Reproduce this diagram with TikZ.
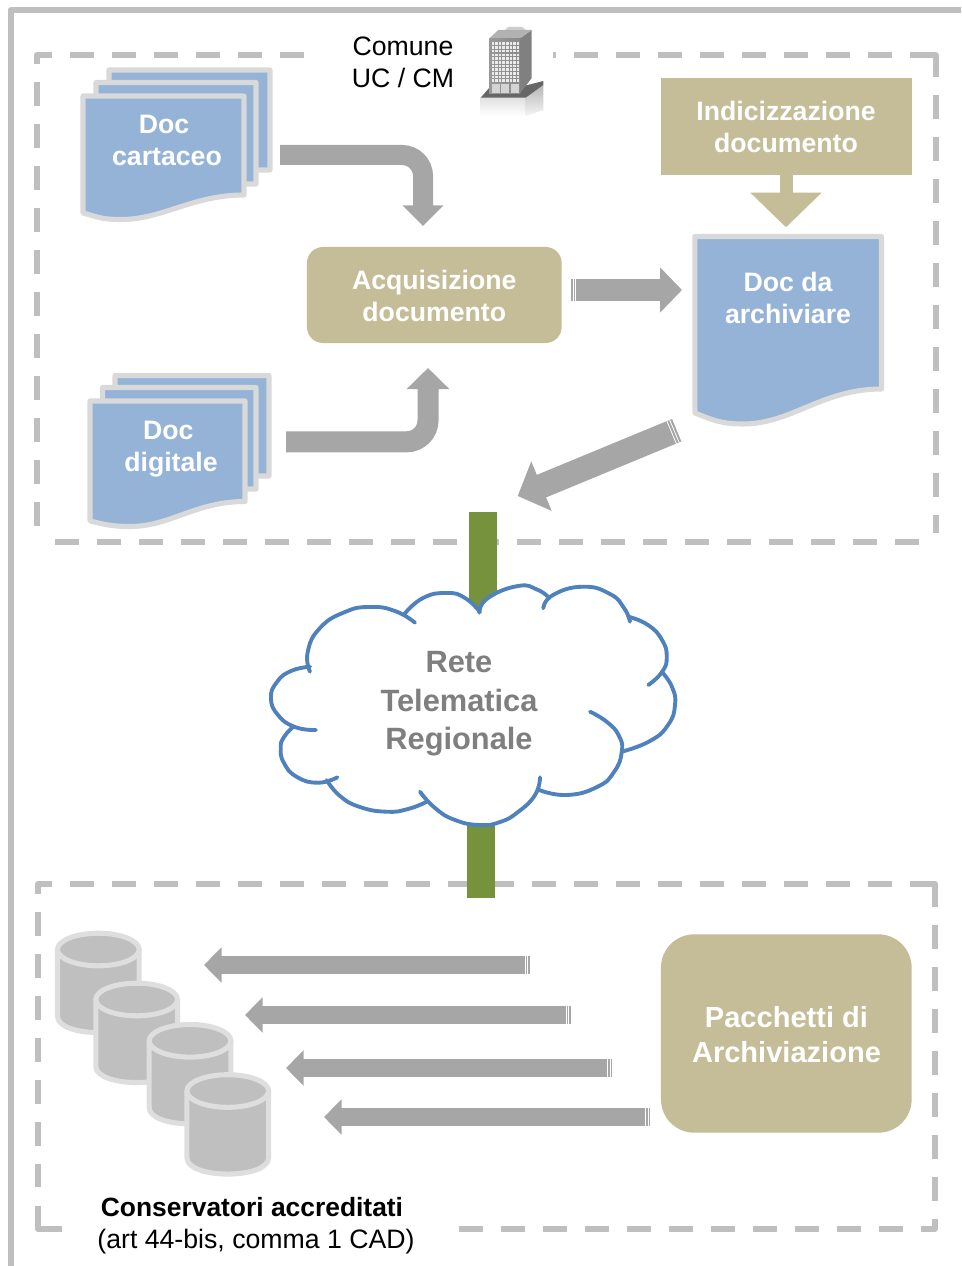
\documentclass[tikz,border=0pt]{standalone}
\usepackage{fontspec}
\setmainfont{Liberation Sans}
\usetikzlibrary{arrows.meta,calc}
\definecolor{framegray}{HTML}{BFBFBF}
\definecolor{arrowgray}{HTML}{A6A6A6}
\definecolor{tanfill}{HTML}{C4BD97}
\definecolor{docblue}{HTML}{95B3D7}
\definecolor{docedge}{HTML}{D9D9D9}
\definecolor{cylfill}{HTML}{BFBFBF}
\definecolor{cyledge}{HTML}{DEDEDE}
\definecolor{netgreen}{HTML}{76923C}
\definecolor{cloudblue}{HTML}{4F81BD}
\definecolor{cloudtext}{HTML}{7F7F7F}
\newcommand{\docpage}[7]{% x1 y1 x2 yright lowx lowy yleft
  \draw[docpagestyle] (#1,#2) -- (#3,#2) -- (#3,#4)
    .. controls ({#3-0.32*(#3-#1)},#4) and ({#5+0.26*(#3-#1)},#6) .. (#5,#6)
    .. controls ({#5-0.13*(#3-#1)},#6) and ({#1+0.08*(#3-#1)},{#7+0.5*(#6-#7)}) .. (#1,#7) -- cycle;}
\newcommand{\cla}{(310,671.7) (307.7,652) (320,628) (345,612) (370,607) (395,611) (415,622.7)}
\newcommand{\clb}{(404,614.5) (423,598) (447,593) (465,598) (480,612)}
\newcommand{\clc}{(479.3,612.7) (488,598) (518,586) (537,589.5) (549.3,598)}
\newcommand{\cld}{(543.3,608.3) (553,595) (583,586.7) (610,594) (624,608) (630,621.7)}
\newcommand{\cle}{(628.3,616.7) (648,625) (662,640) (666.7,657) (662,672) (648.3,685)}
\newcommand{\clf}{(661.7,671.7) (672,687) (675,705) (668,725) (650,741) (621.7,751.7)}
\newcommand{\clg}{(590,711.7) (607,722) (619,736) (621.7,752) (614,772) (597,787) (566.7,795) (539.3,790)}
\newcommand{\clh}{(540,777.3) (535,795) (518,812) (500,822) (480,825) (455,820) (435,808) (420,791.7)}
\newcommand{\cli}{(426.7,801.7) (408,809) (386.7,811.7) (360,807) (340,796) (326.7,780)}
\newcommand{\clj}{(337.3,777.3) (318.3,782.7) (297,777) (284,763) (280.7,748) (284,737) (293.3,726.7)}
\newcommand{\clk}{(316,730) (295,727) (278,715) (271,698) (277,682) (291,671) (310,666.7)}
\tikzset{
  x=.75pt,y=-.75pt,
  framepart/.style={draw=framegray,line width=4.5pt,line join=round},
  dashside/.style={framepart,dash pattern=on 18pt off 13.5pt},
  docpagestyle/.style={draw=docedge,fill=docblue,line width=3.8pt,line join=round},
  doctext/.style={text=white,font=\fontsize{20}{24}\selectfont\bfseries,align=center,inner sep=0pt},
  tanbox/.style={fill=tanfill,draw=none,inner sep=0pt},
  blockarrow/.style={draw=arrowgray,line width=#1,line join=miter},
  stripe/.style={draw=white,line width=.6pt},
  cloudline/.style={draw=cloudblue,line width=2.9pt,line cap=round},
  cloudplot/.style={smooth,tension=.85},
  greenbar/.style={draw=netgreen,line width=21pt},
  dbcyl/.pic={
    \draw[fill=cylfill,draw=cyledge,line width=3.8pt,line join=round]
      (57.5,949.5) -- (57.5,1016.2) .. controls (57.5,1038) and (139.2,1038) .. (139.2,1016.2)
      -- (139.2,949.5);
    \draw[fill=cylfill,draw=cyledge,line width=3.8pt] (98.35,949.5) ellipse [x radius=40.85,y radius=16.3];
  }
}
\begin{document}
\begin{tikzpicture}
\useasboundingbox (0,0) rectangle (961,1266);
\clip (0,0) rectangle (961,1266);
\fill[white] (0,0) rectangle (961,1266);

% outer frame
\draw[framepart] (10.5,1270) -- (10.5,10.5) -- (965,10.5);

% upper dashed box
\draw[framepart] (52,55.5) -- (36.7,55.5) -- (36.7,64);
\draw[dashside] (70,55.5) -- (304,55.5);
\draw[dashside] (532,55.5) -- (892,55.5);
\fill[white] (525,50) rectangle (553,62);
\draw[framepart] (910,55.5) -- (935.5,55.5) -- (935.5,77);
\draw[dashside] (935.5,95) -- (935.5,533);
\draw[dashside] (36.7,82) -- (36.7,526);
\draw[dashside] (55,541.7) -- (919,541.7);

% lower dashed box
\draw[framepart] (52,884) -- (38,884) -- (38,894);
\draw[dashside] (70,884) -- (892,884);
\draw[framepart] (910,884) -- (935,884) -- (935,906.7);
\draw[dashside] (935,925) -- (935,1201);
\draw[framepart] (935,1219) -- (935,1228.7) -- (921,1228.7);
\draw[dashside] (903,1228.7) -- (459,1228.7);
\draw[dashside] (38,912) -- (38,1187);
\draw[framepart] (38,1206) -- (38,1228.7) -- (62,1228.7);

% building
\shade[top color=black!12,bottom color=white] (480.7,97.7) -- (525.7,97.7) -- (525.7,116) -- (480.7,116) -- cycle;
\shade[top color=black!28,bottom color=black!4] (525.7,97.7) -- (543.3,85) -- (543.3,110) -- (525.7,116) -- cycle;
\fill[black!60] (480.7,97.7) -- (490,87) -- (520,87) -- (543.3,81) -- (543.3,85) -- (525.7,97.7) -- cycle;
\fill[black!50] (520,38.3) -- (531.7,30) -- (531.7,78) -- (520,93.3) -- cycle;
\fill[black!30] (489.3,38.3) -- (498.3,30) -- (531.7,30) -- (520,38.3) -- cycle;
\fill[black!20] (505,30) -- (508,27) -- (522,27) -- (526,30) -- cycle;
\shade[left color=black!40,right color=black!46] (489.3,38.3) rectangle (520,93.3);
\foreach \wy in {0,...,10} \foreach \wx in {0,...,7}
  \fill[white!92!black] ({491.6+\wx*3.6},{42.5+\wy*3.7}) rectangle +(2.5,2.6);
\foreach \dx in {491.7,501,510.7} \fill[black!17] (\dx,84.5) rectangle +(7.8,8.8);

% cartaceo stack
\docpage{109}{70}{270}{170}{150}{172}{170}
\docpage{96}{82.5}{256}{184}{137}{186}{184}
\docpage{83}{96}{244}{195}{121}{219.5}{213}
\node[doctext] (cartaceo) at (167,140) {Doc\hspace{4.5pt}\null\\cartaceo};

% digitale stack
\docpage{115}{375.5}{269}{476}{155}{478}{476}
\docpage{102.5}{387.5}{256}{489}{143}{491}{489}
\docpage{90}{401}{245}{501.5}{130}{526.5}{521}
\node[doctext] (digitale) at (171,449) {Doc\hspace{4pt}\null\\digitale};

% doc da archiviare
\docpage{694.8}{236.5}{881.5}{389}{743}{424}{413}
\node[doctext] (archiviare) at (788,298) {Doc da\\archiviare};

% tan boxes
\node[tanbox,rounded corners=12pt,minimum width=191pt,minimum height=72pt] (acq) at (434.3,295) {};
\node[doctext] (acqtext) at (434.3,296) {Acquisizione\\documento};
\node[tanbox,minimum width=188pt,minimum height=72.5pt] (idx) at (786.3,126.3) {};
\node[doctext] (idxtext) at (786,127) {Indicizzazione\\documento};
\node[tanbox,rounded corners=25pt,minimum width=188pt,minimum height=148.8pt] (pack) at (786.3,1033.5) {};
\node[doctext,font=\fontsize{21.8}{26.25}\selectfont\bfseries] (packtext) at (786.5,1035) {Pacchetti di\\Archiviazione};

% connectors
\coordinate (idxtip) at (786,227.3);
\draw[draw=tanfill,line width=9.75pt,-{Triangle[length=26pt,width=52pt]}] (idx.south -| idxtip) -- (idxtip);

\coordinate (a1s) at (280,155);
\coordinate (a1e) at (423,226);
\draw[blockarrow=15pt,rounded corners=15.75pt,-{Triangle[length=15.4pt,width=29.6pt]}] (a1s) -| (a1e);

\coordinate (a2s) at (286,441.8);
\coordinate (a2e) at (428,368);
\draw[blockarrow=15.75pt,rounded corners=16pt,-{Triangle[length=15.75pt,width=31pt]}] (a2s) -| (a2e);

\coordinate (a3s) at (571,290);
\coordinate (a3e) at (682,290);
\draw[blockarrow=16.5pt,-{Triangle[length=16.5pt,width=33pt]}] (a3s) -- (a3e);
\foreach \sx in {573.2,575.8} \draw[stripe] (\sx,278) -- (\sx,302);

\coordinate (a4s) at (676.7,430.2);
\coordinate (a4e) at (517.7,496);
\draw[blockarrow=18.3pt,-{Triangle[length=19.3pt,width=39pt]}] (a4s) -- (a4e);
\draw[stripe] (669.6,419.8) -- (679.2,442.6);
\draw[stripe] (666.8,420.9) -- (676.4,443.7);

\foreach \an/\ay/\tx/\hx in {p/965/530/204,q/1015/571/245,r/1068/612.3/286,s/1117/650.3/324}{
  \coordinate (\an s) at (\tx,\ay);
  \coordinate (\an e) at (\hx,\ay);
  \draw[blockarrow=13.3pt,-{Triangle[length=13.3pt,width=26pt]}] (\an s) -- (\an e);
  \draw[stripe] ({\tx-5},{\ay-10}) -- ({\tx-5},{\ay+10});
  \draw[stripe] ({\tx-2.4},{\ay-10}) -- ({\tx-2.4},{\ay+10});
}

% green links
\coordinate (linktop) at (482.5,512.3);
\coordinate (linktopc) at (482.5,620);
\coordinate (linkbot) at (480.7,898);
\coordinate (linkbotc) at (480.7,800);
\draw[greenbar] (linktop) -- (linktopc);
\draw[greenbar] (linkbot) -- (linkbotc);

% cloud
\fill[white] plot[cloudplot] coordinates {\cla} -- plot[cloudplot] coordinates {\clb}
  -- plot[cloudplot] coordinates {\clc} -- plot[cloudplot] coordinates {\cld}
  -- plot[cloudplot] coordinates {\cle} -- plot[cloudplot] coordinates {\clf}
  -- plot[cloudplot] coordinates {\clg} -- plot[cloudplot] coordinates {\clh}
  -- plot[cloudplot] coordinates {\cli} -- plot[cloudplot] coordinates {\clj}
  -- plot[cloudplot] coordinates {\clk} -- cycle;
\fill[white] (330,640) rectangle (620,770);
\foreach \arcpts in {\cla,\clb,\clc,\cld,\cle,\clf,\clg,\clh,\cli,\clj,\clk}
  \draw[cloudline] plot[cloudplot] coordinates {\arcpts};
\node[text=cloudtext,font=\fontsize{23.1}{28.9}\selectfont\bfseries,align=center,inner sep=0pt] (rete) at (459,704) {Rete\\Telematica\\Regionale};

% cylinders
\pic at (0,0) {dbcyl};
\pic at (38.3,50) {dbcyl};
\pic at (91.7,91.3) {dbcyl};
\pic at (129.4,141.5) {dbcyl};

% labels
\node[font=\fontsize{20}{24}\selectfont,align=center,inner sep=0pt] (comune) at (403,62) {Comune\\UC / CM};
\node[font=\fontsize{20}{24}\selectfont,align=center,inner sep=0pt] (conserv) at (256,1226) {{\fontsize{19.8}{24}\selectfont\bfseries Conservatori accreditati}\hspace{6pt}\null\\(art 44-bis, comma 1 CAD)};
\end{tikzpicture}
\end{document}
